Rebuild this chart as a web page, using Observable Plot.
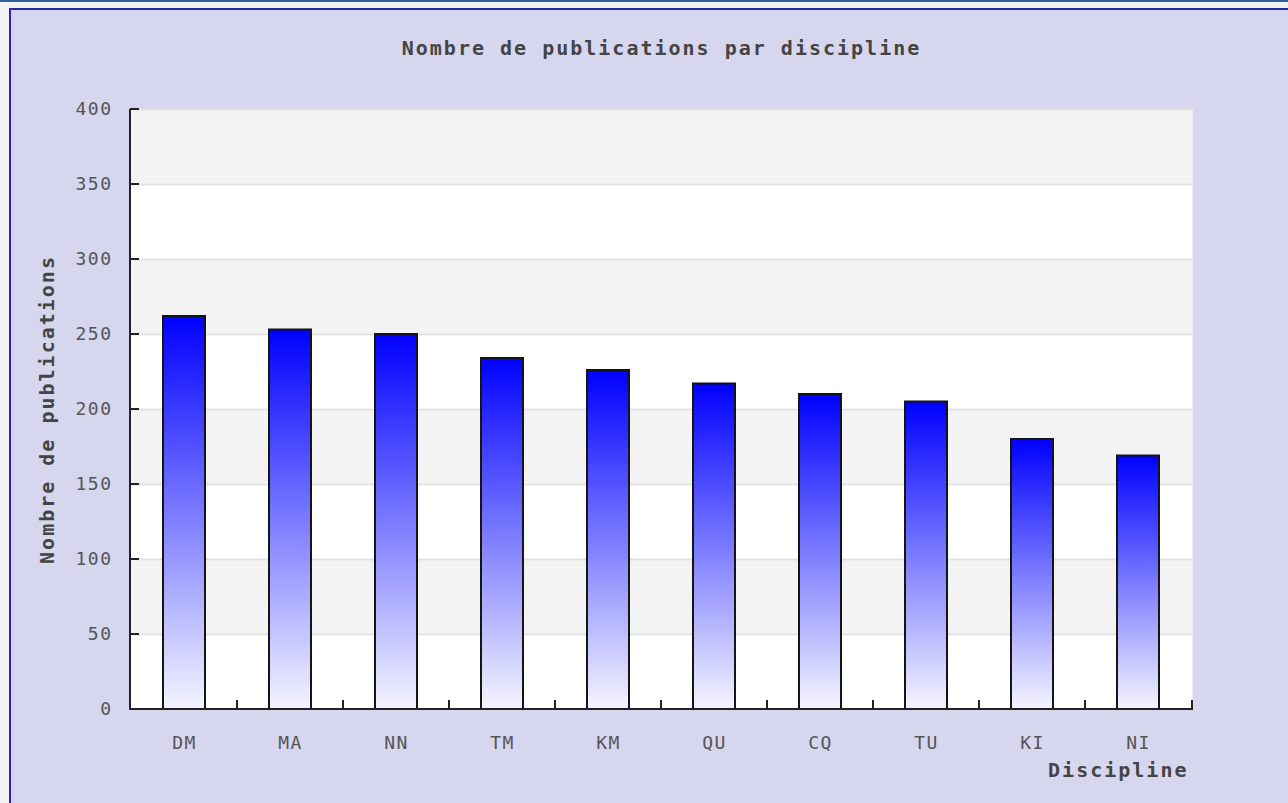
<!DOCTYPE html>
<html><head><meta charset="utf-8">
<script src="https://cdn.jsdelivr.net/npm/d3@7"></script>
<script src="https://cdn.jsdelivr.net/npm/@observablehq/plot@0.6"></script>
<style>
html,body{margin:0;padding:0;width:1288px;height:803px;overflow:hidden;background:#f3f3f5;}
#topline{position:absolute;left:0;top:0;width:1288px;height:2px;background:#2f5f9f;}
#frame{position:absolute;left:9px;top:8px;width:1290px;height:800px;background:#d6d6ee;border-left:2px solid #2a2aa6;border-top:2px solid #2a2aa6;}
#chart{position:absolute;left:0;top:0;}
#chart svg text{letter-spacing:1.5px;}
#chart g[font-weight="bold"] text{letter-spacing:2px;}
</style></head><body>
<div id="topline"></div><div id="frame"></div><div id="chart"></div>
<script>
const categories = ["DM","MA","NN","TM","KM","QU","CQ","TU","KI","NI"];
const publications = [262,253,250,234,226,217,210,205,180,169];
const yTicks = [0,50,100,150,200,250,300,350,400];
const shadedBands = [[350,400],[250,300],[150,200],[50,100]];
const title = "Nombre de publications par discipline";
const yLabel = "Nombre de publications";
const xLabel = "Discipline";

const data = categories.map((c,i)=>({discipline:c, n:publications[i]}));
const bandData = shadedBands.map(([a,b])=>({a,b}));
const font = "'DejaVu Sans Mono', 'Liberation Mono', monospace";

function defsMark() {
  const defs = d3.create("svg:defs");
  const g = defs.append("linearGradient").attr("id","barGrad")
    .attr("x1",0).attr("y1",0).attr("x2",0).attr("y2",1);
  g.append("stop").attr("offset","0%").attr("stop-color","#0000ff");
  g.append("stop").attr("offset","100%").attr("stop-color","#f5f5ff");
  return defs.node();
}

function axisLines(index, scales, values, dims) {
  const x = scales.x, y = scales.y;
  const bw = typeof x.bandwidth === "function" ? x.bandwidth() : scales.scales.x.bandwidth;
  const left = dims.marginLeft, right = dims.width - dims.marginRight;
  const top = dims.marginTop, bottom = dims.height - dims.marginBottom;
  const g = d3.create("svg:g").attr("stroke","#222").attr("fill","none").attr("stroke-width",2);
  for (const t of yTicks) {
    g.append("line").attr("x1",left).attr("x2",left+9).attr("y1",y(t)).attr("y2",y(t));
  }
  categories.forEach((c,i)=>{
    const bx = i < categories.length-1 ? (x(c)+bw+x(categories[i+1]))/2 : right;
    g.append("line").attr("x1",bx).attr("x2",bx).attr("y1",bottom).attr("y2",bottom-9);
  });
  g.append("line").attr("x1",left).attr("x2",left).attr("y1",top).attr("y2",bottom+1);
  g.append("line").attr("x1",left-1).attr("x2",right+1).attr("y1",bottom).attr("y2",bottom);
  return g.node();
}

const chart = Plot.plot({
  width:1288, height:803,
  marginLeft:130, marginRight:96, marginTop:109, marginBottom:94,
  style:{background:"transparent", fontFamily:font, overflow:"visible"},
  x:{domain:categories, paddingInner:0.6, paddingOuter:0.3, axis:null},
  y:{domain:[0,400], axis:null},
  marks:[
    defsMark,
    Plot.frame({fill:"white", stroke:null}),
    Plot.rect(bandData,{y1:"a", y2:"b", fill:"#f3f3f3"}),
    Plot.ruleY(yTicks.filter(t=>t>0), {stroke:"#e3e3e3", strokeWidth:2}),
    Plot.barY(data, {x:"discipline", y:"n", fill:"url(#barGrad)", stroke:"#151515", strokeWidth:2}),
    axisLines,
    Plot.axisY(yTicks, {tickSize:0, tickPadding:18, fontSize:18, color:"#555", label:null}),
    Plot.axisX({tickSize:0, tickPadding:27, fontSize:18, color:"#555", label:null}),
    Plot.text([title], {frameAnchor:"top", lineAnchor:"middle", textAnchor:"middle", dy:-61, fontSize:20, fontWeight:"bold", fill:"#444"}),
    Plot.text([yLabel], {frameAnchor:"left", lineAnchor:"middle", textAnchor:"middle", dx:-83, rotate:-90, fontSize:20, fontWeight:"bold", fill:"#444"}),
    Plot.text([xLabel], {frameAnchor:"bottom-right", lineAnchor:"middle", textAnchor:"end", dx:-4, dy:61, fontSize:20, fontWeight:"bold", fill:"#444"})
  ]
});
document.getElementById("chart").appendChild(chart);
</script>
</body></html>
